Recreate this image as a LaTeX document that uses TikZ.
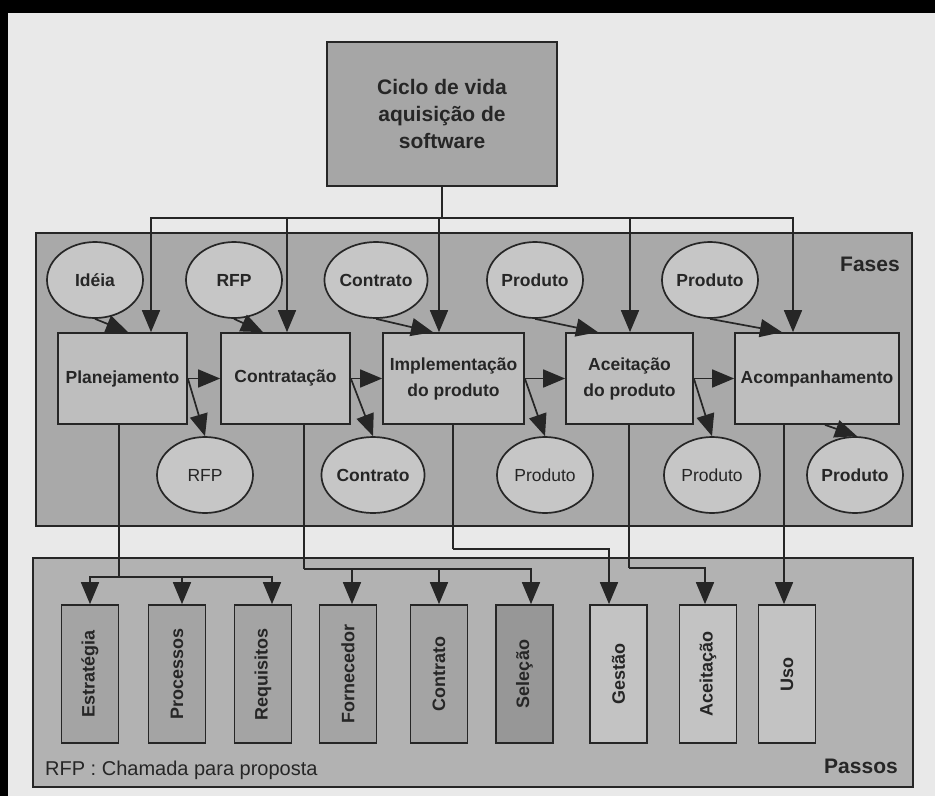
\documentclass[tikz,border=0pt]{standalone}
\usepackage{fontspec}
\setmainfont{Liberation Sans}
\usepackage{graphicx}
\usetikzlibrary{arrows.meta,shapes.geometric}
\definecolor{bgc}{HTML}{E9E9E9}
\definecolor{ink}{HTML}{262626}
\definecolor{fasesc}{HTML}{A9A9A9}
\definecolor{passosc}{HTML}{B2B2B2}
\definecolor{ellc}{HTML}{C6C6C6}
\definecolor{boxc}{HTML}{BEBEBE}
\definecolor{topc}{HTML}{A6A6A6}
\definecolor{stepdark}{HTML}{A4A4A4}
\definecolor{steplight}{HTML}{C3C3C3}
\begin{document}
\begin{tikzpicture}[x=1pt,y=-1pt,
  ln/.style={draw=ink,line width=1.7pt},
  arr/.style={ln,-{Triangle[length=22pt,width=18pt]}},
  panel/.style={draw=ink,line width=1.7pt,inner sep=0pt},
  phase/.style={draw=ink,line width=1.7pt,fill=boxc,minimum height=91pt,inner sep=2pt,
     align=center,text=ink,font=\bfseries\fontsize{17.5}{26}\selectfont},
  oval/.style={ellipse,draw=ink,line width=1.7pt,fill=ellc,minimum width=96pt,minimum height=76pt,
     inner sep=0pt,text=ink,font=\bfseries\fontsize{17.5}{20}\selectfont},
  ovalr/.style={oval,font=\fontsize{17.5}{20}\selectfont},
  stepbox/.style={draw=ink,line width=1.7pt,minimum width=57pt,minimum height=138pt,inner sep=0pt,
     text=ink,font=\bfseries\fontsize{18}{20}\selectfont},
  lbl/.style={text=ink,inner sep=0pt,font=\bfseries\fontsize{21}{24}\selectfont}
]
\useasboundingbox (0,0) rectangle (935,796);
\fill[bgc] (0,0) rectangle (935,796);
\fill[black] (0,0) rectangle (935,13);
\fill[black] (0,0) rectangle (8,796);

% panels
\node[panel,fill=fasesc,minimum width=876pt,minimum height=293pt] (fases) at (474,379.5) {};
\node[panel,fill=passosc,minimum width=880pt,minimum height=229pt] (passos) at (473,672.5) {};
\node[lbl] (fasestxt) at (870,264) {Fases};
\node[lbl] (passostxt) at (861,766) {Passos};
\node[text=ink,inner sep=0pt,anchor=west,font=\fontsize{20}{24}\selectfont] (nota) at (45,770) {RFP : Chamada para proposta};

% top box
\node[draw=ink,line width=1.7pt,fill=topc,minimum width=230pt,minimum height=144pt,align=center,
  text=ink,font=\bfseries\fontsize{21}{27}\selectfont] (top) at (442,114)
  {Ciclo de vida\\aquisição de\\software};

% phase boxes
\node[phase,minimum width=129pt] (plan) at (122.5,378.5) {Planejamento};
\node[phase,minimum width=129pt] (contr) at (285.5,378.5) {Contratação};
\node[phase,minimum width=141pt] (impl) at (453.5,378.5) {Implementação\\do produto};
\node[phase,minimum width=127pt] (acei) at (629.5,378.5) {Aceitação\\do produto};
\node[phase,minimum width=164pt] (acomp) at (817,378.5) {Acompanhamento};

% ellipses top
\node[oval] (idea) at (95,280) {Idéia};
\node[oval] (rfpa) at (234,280) {RFP};
\node[oval] (cona) at (376,280) {Contrato};
\node[oval] (proa) at (535,280) {Produto};
\node[oval] (prob) at (710,280) {Produto};
% ellipses bottom
\node[ovalr] (rfpb) at (205,475) {RFP};
\node[oval] (conb) at (373,475) {Contrato};
\node[ovalr] (proc) at (545,475) {Produto};
\node[ovalr] (prod) at (712,475) {Produto};
\node[oval] (proe) at (855,475) {Produto};

% step boxes
\node[stepbox,fill=stepdark] (estr) at (90,674) {\rotatebox{90}{Estratégia}};
\node[stepbox,fill=stepdark] (proces) at (177,674) {\rotatebox{90}{Processos}};
\node[stepbox,fill=stepdark] (requ) at (263,674) {\rotatebox{90}{Requisitos}};
\node[stepbox,fill=stepdark] (forn) at (348,674) {\rotatebox{90}{Fornecedor}};
\node[stepbox,fill=stepdark] (contp) at (439,674) {\rotatebox{90}{Contrato}};
\node[stepbox,fill=stepdark!92!black] (sele) at (524.5,674) {\rotatebox{90}{Seleção}};
\node[stepbox,fill=steplight] (gest) at (618.5,674) {\rotatebox{90}{Gestão}};
\node[stepbox,fill=steplight] (aceit) at (708,674) {\rotatebox{90}{Aceitação}};
\node[stepbox,fill=steplight] (uso) at (787,674) {\rotatebox{90}{Uso}};

% top distribution
\coordinate (hub) at (442,218);
\draw[ln] (top) -- (hub);
\draw[arr] (hub) -| ([xshift=28.5]plan.north);
\draw[arr] (hub) -| ([xshift=1.5]contr.north);
\draw[arr] (hub) -| ([xshift=-14.5]impl.north);
\draw[arr] (hub) -| ([xshift=0.5]acei.north);
\draw[arr] (hub) -| ([xshift=-24]acomp.north);

% ellipse inputs
\draw[arr] (idea.south) -- ([xshift=5.5]plan.north);
\draw[arr] (rfpa.south) -- ([xshift=-22.5]contr.north);
\draw[arr] (cona.south) -- ([xshift=-20.5]impl.north);
\draw[arr] (proa.south) -- ([xshift=-31.5]acei.north);
\draw[arr] (prob.south) -- ([xshift=-35]acomp.north);

% chain
\draw[arr] (plan.east) -- (contr.west);
\draw[arr] (contr.east) -- (impl.west);
\draw[arr] (impl.east) -- (acei.west);
\draw[arr] (acei.east) -- (acomp.west);

% outputs
\draw[arr] (plan.east) -- (rfpb.north);
\draw[arr] (contr.east) -- (conb.north);
\draw[arr] (impl.east) -- (proc.north);
\draw[arr] (acei.east) -- (prod.north);
\draw[arr] ([xshift=8]acomp.south) -- ([xshift=2]proe.north);

% to steps
\draw[ln] ([xshift=-3.5]plan.south) -- ++(0,152) coordinate (pj);
\draw[arr] (pj) -| (estr.north);
\draw[arr] (pj) -| ([xshift=5]proces.north);
\draw[arr] (pj) -| ([xshift=9]requ.north);

\draw[ln] ([xshift=18.5]contr.south) -- ++(0,144) coordinate (cj);
\draw[arr] (cj) -| ([xshift=4]forn.north);
\draw[arr] (cj) -| (contp.north);
\draw[arr] (cj) -| ([xshift=6.5]sele.north);

\draw[ln] ([xshift=-0.5]impl.south) -- ++(0,124) coordinate (ij);
\draw[arr] (ij) -| ([xshift=-9.5]gest.north);

\draw[ln] ([xshift=-0.5]acei.south) -- ++(0,143) coordinate (aj);
\draw[arr] (aj) -| ([xshift=-3]aceit.north);

\draw[arr] ([xshift=-3]uso.north |- acomp.south) -- ([xshift=-3]uso.north);
\end{tikzpicture}
\end{document}
